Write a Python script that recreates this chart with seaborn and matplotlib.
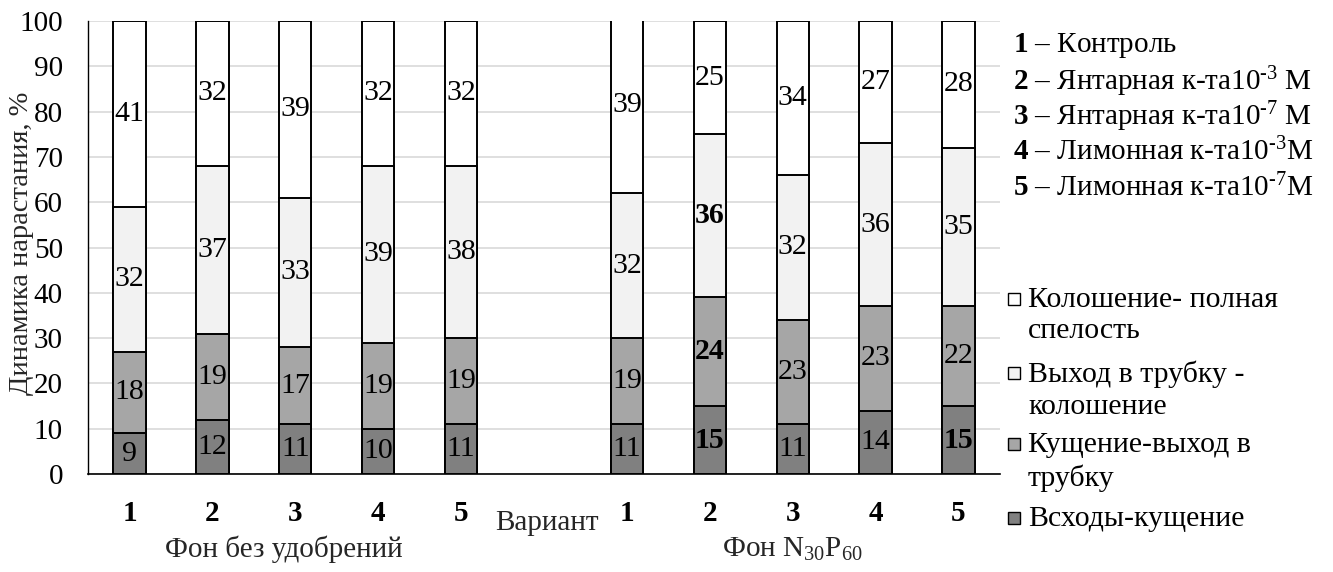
import matplotlib
matplotlib.use("Agg")
import matplotlib.pyplot as plt
from matplotlib.patches import Rectangle
from matplotlib.transforms import blended_transform_factory
import numpy as np
import pandas as pd
import seaborn as sns

# Variants (1-5) on two fertiliser backgrounds
variants = ["1", "2", "3", "4", "5"]
backgrounds = ["Фон без удобрений", "Фон N$_{30}$P$_{60}$"]

# Share of each growth interval, % (bottom to top of each bar)
sprout_tiller = [9, 12, 11, 10, 11, 11, 15, 11, 14, 15]      # Всходы-кущение
tiller_boot = [18, 19, 17, 19, 19, 19, 24, 23, 23, 22]       # Кущение-выход в трубку
boot_heading = [32, 37, 33, 39, 38, 32, 36, 32, 36, 35]      # Выход в трубку - колошение
heading_ripe = [41, 32, 39, 32, 32, 39, 25, 34, 27, 28]      # Колошение- полная спелость

# Values printed in bold (bar index, layer index)
bold_cells = {(6, 0), (6, 1), (6, 2), (9, 0)}

layer_names = [["Всходы-кущение"],
               ["Кущение-выход в", "трубку"],
               ["Выход в трубку -", "колошение"],
               ["Колошение- полная", "спелость"]]
layer_colors = ["#808080", "#a6a6a6", "#f2f2f2", "#ffffff"]

legend_notes = [
    r"$\mathbf{1}$ – Контроль",
    r"$\mathbf{2}$ – Янтарная к-та10$^{‐3}$ М",
    r"$\mathbf{3}$ – Янтарная к-та10$^{‐7}$ М",
    r"$\mathbf{4}$ – Лимонная к-та10$^{‐3}$М",
    r"$\mathbf{5}$ – Лимонная к-та10$^{‐7}$М",
]

sns.set_theme(style="white")
plt.rcParams["font.family"] = ["Liberation Serif", "DejaVu Serif"]
plt.rcParams["mathtext.fontset"] = "custom"
plt.rcParams["mathtext.rm"] = "Liberation Serif"
plt.rcParams["mathtext.it"] = "Liberation Serif:italic"
plt.rcParams["mathtext.bf"] = "Liberation Serif:bold"

# Category slots: five bars, an empty slot, five bars
slots = [f"a{v}" for v in variants] + ["gap"] + [f"b{v}" for v in variants]
bar_slots = [s for s in slots if s != "gap"]

layers = [sprout_tiller, tiller_boot, boot_heading, heading_ripe]
cum = np.cumsum(np.array(layers), axis=0)

W, H = 1333, 572
fig = plt.figure(figsize=(W / 100, H / 100), dpi=100)
ax = fig.add_axes([88 / W, 1 - 474 / H, 912 / W, 453 / H])

# Draw cumulative totals from the top layer down so each band shows through
for k in range(3, -1, -1):
    df = pd.DataFrame({"slot": bar_slots, "value": cum[k]})
    sns.barplot(data=df, x="slot", y="value", order=slots, color=layer_colors[k],
                width=0.39, edgecolor="black", linewidth=1.4, saturation=1,
                ax=ax, zorder=3)

# Value labels centred in each band
for i, s in enumerate(bar_slots):
    xpos = slots.index(s)
    for k in range(4):
        val = layers[k][i]
        mid = cum[k][i] - val / 2
        if mid > 100:
            continue
        ax.text(xpos, mid, f"{val}", ha="center", va="center", fontsize=21.5,
                fontweight="bold" if (i, k) in bold_cells else "normal",
                color="black", zorder=5)

ax.set_ylim(0, 100)
ax.set_xlim(-0.5, len(slots) - 0.5)
ax.set_yticks(np.arange(0, 101, 10))
ax.yaxis.grid(True, color="#d9d9d9", linewidth=1.2, zorder=0)
ax.set_axisbelow(True)
ax.tick_params(axis="both", length=0, colors="black")
ax.tick_params(axis="y", pad=18, labelsize=21)
ax.tick_params(axis="x", pad=19)

ax.set_xticks(range(len(slots)))
ax.set_xticklabels(variants + [""] + variants, fontsize=21, fontweight="bold")

for side in ["top", "right"]:
    ax.spines[side].set_visible(False)
ax.spines["left"].set_color("#000000")
ax.spines["left"].set_linewidth(1.0)
ax.spines["bottom"].set_color("#000000")
ax.spines["bottom"].set_linewidth(1.2)

ax.set_xlabel("Вариант", fontsize=21, labelpad=0)
ax.xaxis.label.set_verticalalignment("center")
ax.xaxis.set_label_coords(0.503, -0.108)
ax.set_ylabel("Динамика нарастания, %", fontsize=20.5)
ax.yaxis.label.set_verticalalignment("center")
ax.yaxis.set_label_coords(-0.073, 0.51)

# Background names under each group of bars
tr = blended_transform_factory(ax.transData, ax.transAxes)
ax.text(1.86, -0.167, backgrounds[0], transform=tr, ha="center", va="center", fontsize=21)
ax.text(8, -0.167, backgrounds[1], transform=tr, ha="center", va="center", fontsize=21)

# Key for the variant numbers
for j, note in enumerate(legend_notes):
    fig.text(1013 / W, 1 - (46 + 35.5 * j) / H, note, ha="left", va="center",
             fontsize=21, color="black")

# Key for the growth intervals, top entry first
entry_rows = [[300, 331], [374, 407], [445, 478], [519]]
for row, k in zip(entry_rows, range(3, -1, -1)):
    fig.add_artist(Rectangle((1008 / W, 1 - (row[0] + 5) / H), 12 / W, 12 / H,
                             transform=fig.transFigure, facecolor=layer_colors[k],
                             edgecolor="black", linewidth=1.0))
    for line, y in zip(layer_names[k], row):
        fig.text(1028 / W, 1 - y / H, line, ha="left", va="center",
                 fontsize=21.5, color="black")

fig.savefig("out.png", dpi=100)
